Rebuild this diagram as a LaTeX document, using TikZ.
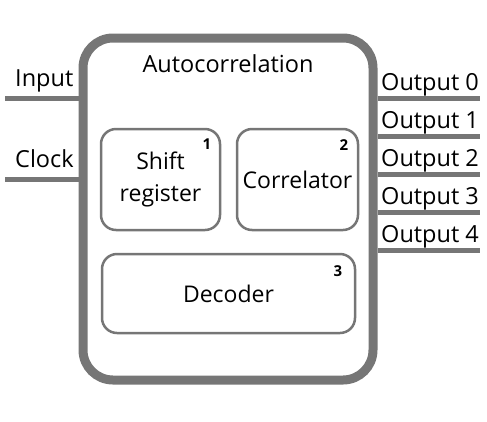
\documentclass[tikz,border=0pt]{standalone}
\usepackage{fontspec}
\setmainfont{Open Sans}
\usepackage{xcolor}
\definecolor{boxgray}{RGB}{118,118,118}

\begin{document}
\begin{tikzpicture}[x=1pt,y=-1pt,
  outerbox/.style={draw=boxgray, line width=9pt, rounded corners=30pt, inner sep=0pt},
  blockbox/.style={draw=boxgray, line width=2.5pt, rounded corners=15pt, inner sep=0pt, align=center, font=\fontsize{23}{32}\selectfont},
  wire/.style={draw=boxgray, line width=5pt},
  label/.style={inner sep=0pt, anchor=base west, font=\fontsize{23.5}{28}\selectfont},
  tag/.style={inner sep=0pt, font=\bfseries\fontsize{15}{18}\selectfont}]
\useasboundingbox (0,0) rectangle (487,421);
\node [outerbox, minimum width=290pt, minimum height=342pt] (outer) at (228,209) {};
\node [inner sep=0pt, anchor=base, font=\fontsize{23.5}{28}\selectfont] (title) at (228,72) {Autocorrelation};
\node [blockbox, minimum width=119pt, minimum height=101pt] (shift) at (160.5,179.5) {Shift\\register};
\node [blockbox, minimum width=121pt, minimum height=101pt] (corr) at (297.5,179.5) {Correlator};
\node [blockbox, minimum width=253pt, minimum height=79pt] (dec) at (228.5,293.5) {Decoder};
\node [tag] (n1) at (207,144) {1};
\node [tag] (n2) at (344,145) {2};
\node [tag] (n3) at (338,271) {3};
\coordinate (inp) at (5,98);
\coordinate (clk) at (5,179);
\draw [wire] (inp) -- (inp -| outer.west);
\draw [wire] (clk) -- (clk -| outer.west);
\node [label] (inlab) at (15,86) {Input};
\node [label] (clklab) at (15,167) {Clock};
\foreach \i/\y in {0/98,1/136,2/174,3/212,4/250} {
  \coordinate (out\i) at (480,\y);
  \draw [wire] (out\i -| outer.east) -- (out\i);
  \node [label] (outlab\i) at (381,\y-8) {Output \i};
}
\end{tikzpicture}
\end{document}
